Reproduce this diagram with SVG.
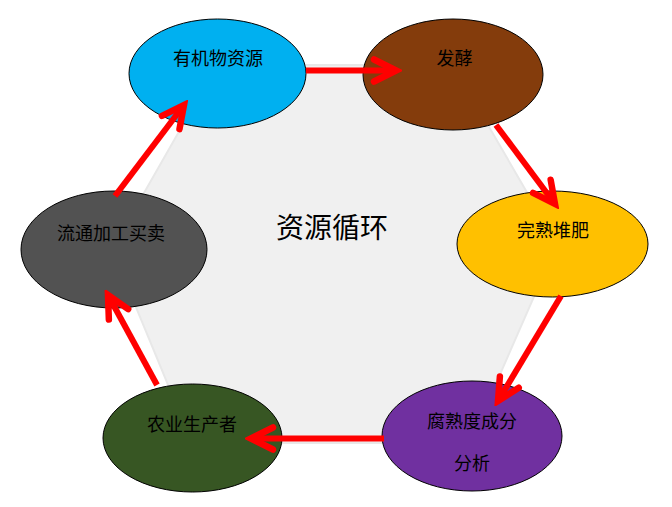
<svg xmlns="http://www.w3.org/2000/svg" width="672" height="507" viewBox="0 0 672 507">
<style>
.lbl{font-family:"Noto Sans CJK SC","Noto Sans",sans-serif;font-size:18px;fill:#000;text-anchor:middle}
.title{font-family:"Noto Sans CJK SC","Noto Sans",sans-serif;font-size:28px;fill:#000;text-anchor:middle}
.node{stroke:#000;stroke-width:1}
.arrow{fill:none;stroke:#ff0000;stroke-width:6;stroke-linecap:butt}
</style>
<defs>
<marker id="chev" markerUnits="userSpaceOnUse" viewBox="-30 -18 36 36" refX="0" refY="0" markerWidth="36" markerHeight="36" orient="auto">
<path d="M-22,-11 L0,0 L-22,11" fill="none" stroke="#ff0000" stroke-width="6.5" stroke-linecap="round" stroke-linejoin="miter"/>
</marker>
</defs>
<rect width="672" height="507" fill="#fff"/>
<g id="background">
<polygon points="217,65 453,65 557,244 470,443 192,443 112,249" fill="#f0f0f0" stroke="#e8e8e8" stroke-width="2"/>
</g>
<g id="center-title">
<text class="title" x="332" y="238">资源循环</text>
</g>
<g id="node-organic">
<ellipse class="node" cx="217.5" cy="73.5" rx="88.5" ry="54.5" fill="#00b0f0"/>
<text class="lbl" x="218" y="65">有机物资源</text>
</g>
<g id="node-ferment">
<ellipse class="node" cx="453" cy="74.5" rx="90" ry="55.5" fill="#843c0c"/>
<text class="lbl" x="454.5" y="65">发酵</text>
</g>
<g id="node-compost">
<ellipse class="node" cx="552.5" cy="244" rx="95.5" ry="53" fill="#ffc000"/>
<text class="lbl" x="553" y="237">完熟堆肥</text>
</g>
<g id="node-analysis">
<ellipse class="node" cx="472" cy="436" rx="90" ry="55" fill="#7030a0"/>
<text class="lbl" x="472" y="428">腐熟度成分</text>
<text class="lbl" x="472" y="470">分析</text>
</g>
<g id="node-producer">
<ellipse class="node" cx="192.5" cy="438" rx="89.5" ry="54" fill="#375623"/>
<text class="lbl" x="192" y="431">农业生产者</text>
</g>
<g id="node-trade">
<ellipse class="node" cx="114" cy="249.5" rx="93" ry="58.5" fill="#525252"/>
<text class="lbl" x="111" y="240">流通加工买卖</text>
</g>
<g id="connectors">
<line class="arrow" x1="306" y1="70.5" x2="396" y2="70.5" marker-end="url(#chev)"/>
<line class="arrow" x1="496" y1="125" x2="555" y2="204" marker-end="url(#chev)"/>
<line class="arrow" x1="561" y1="296" x2="498" y2="401" marker-end="url(#chev)"/>
<line class="arrow" x1="384" y1="438.5" x2="251" y2="438.5" marker-end="url(#chev)"/>
<line class="arrow" x1="157" y1="385" x2="108" y2="295" marker-end="url(#chev)"/>
<line class="arrow" x1="115" y1="196" x2="184" y2="105" marker-end="url(#chev)"/>
</g>
</svg>
